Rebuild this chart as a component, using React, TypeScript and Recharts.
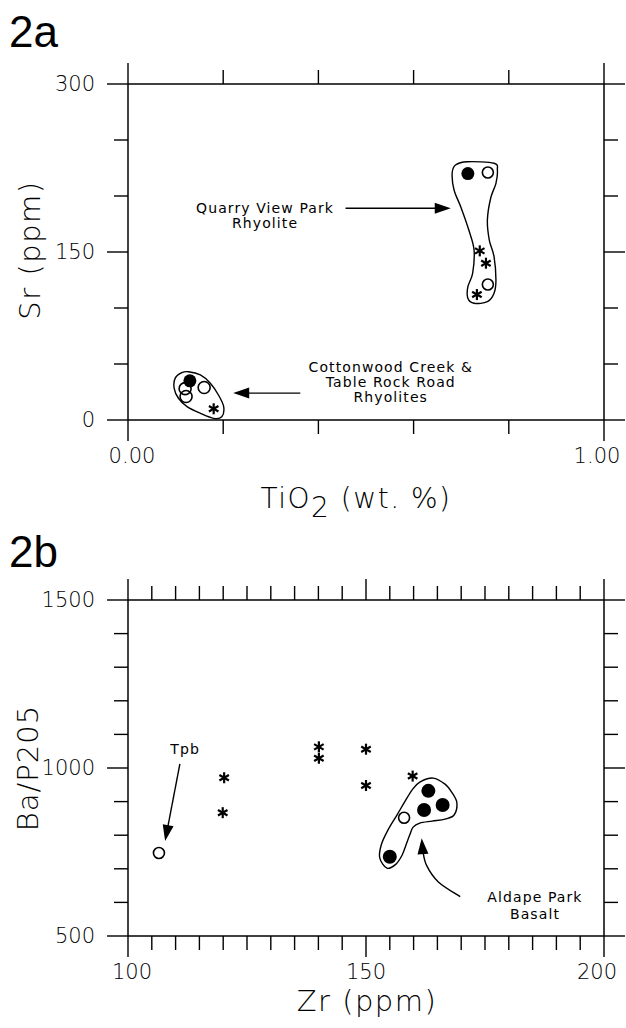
import React from 'react';
import { ScatterChart, Scatter, XAxis, YAxis } from 'recharts';

type P = { x: number; y: number };
type L = { x: number; y: number; text: string };

// ---------------- Panel 2a : Sr (ppm) vs TiO2 (wt. %) ----------------
const tiTicks = [0, 0.2, 0.4, 0.6, 0.8, 1.0];
const tiMajor = [0, 1.0];
const srTicks = [0, 50, 100, 150, 200, 250, 300];
const srMajor = [0, 150, 300];

const quarryFilled: P[] = [{ x: 0.714, y: 220 }];
const quarryOpen: P[] = [{ x: 0.756, y: 221 }, { x: 0.756, y: 121 }];
const quarryStar: P[] = [{ x: 0.739, y: 151 }, { x: 0.752, y: 140 }, { x: 0.733, y: 112 }];
const cottonFilled: P[] = [{ x: 0.13, y: 35 }];
const cottonOpen: P[] = [{ x: 0.12, y: 28 }, { x: 0.16, y: 29 }, { x: 0.122, y: 21 }];
const cottonStar: P[] = [{ x: 0.18, y: 10 }];

const quarryOutline: P[] = [
  { x: 0.688, y: 227.7 }, { x: 0.713, y: 230.6 }, { x: 0.769, y: 229.2 }, { x: 0.776, y: 223.2 },
  { x: 0.773, y: 211.3 }, { x: 0.762, y: 198.2 }, { x: 0.755, y: 178.6 }, { x: 0.759, y: 160.7 },
  { x: 0.769, y: 145.8 }, { x: 0.773, y: 125 }, { x: 0.769, y: 113.1 }, { x: 0.755, y: 105.6 },
  { x: 0.727, y: 104.2 }, { x: 0.714, y: 108.7 }, { x: 0.714, y: 119 }, { x: 0.724, y: 131 },
  { x: 0.727, y: 151.8 }, { x: 0.716, y: 169.6 }, { x: 0.699, y: 190.4 }, { x: 0.685, y: 205.4 },
  { x: 0.681, y: 220.3 },
];
const cottonOutline: P[] = [
  { x: 0.127, y: 43.1 }, { x: 0.152, y: 40.2 }, { x: 0.173, y: 32.8 }, { x: 0.19, y: 22.3 },
  { x: 0.201, y: 11.9 }, { x: 0.197, y: 2.9 }, { x: 0.18, y: 1.5 }, { x: 0.152, y: 6.0 },
  { x: 0.124, y: 11.9 }, { x: 0.106, y: 19.4 }, { x: 0.097, y: 28.3 }, { x: 0.099, y: 37.2 },
  { x: 0.113, y: 42.2 },
];
const quarryArrow: P[] = [{ x: 0.457, y: 189 }, { x: 0.678, y: 189 }];
const cottonArrow: P[] = [{ x: 0.362, y: 24 }, { x: 0.221, y: 24 }];
const quarryLabel: L[] = [
  { x: 0.288, y: 189, text: 'Quarry View Park' },
  { x: 0.288, y: 175.5, text: 'Rhyolite' },
];
const cottonLabel: L[] = [
  { x: 0.552, y: 47.3, text: 'Cottonwood Creek &' },
  { x: 0.552, y: 33.9, text: 'Table Rock Road' },
  { x: 0.552, y: 20.5, text: 'Rhyolites' },
];

// ---------------- Panel 2b : Ba/P205 vs Zr (ppm) ----------------
const zrTicks = [100, 105, 110, 115, 120, 125, 130, 135, 140, 145, 150, 155, 160, 165, 170, 175, 180, 185, 190, 195, 200];
const zrMajor = [100, 150, 200];
const baTicks = [500, 600, 700, 800, 900, 1000, 1100, 1200, 1300, 1400, 1500];
const baMajor = [500, 1000, 1500];

const tpbOpen: P[] = [{ x: 106.5, y: 747 }];
const stars2b: P[] = [
  { x: 120.2, y: 971 }, { x: 119.9, y: 867 }, { x: 140.1, y: 1063 }, { x: 140.1, y: 1029 },
  { x: 150, y: 1056 }, { x: 150, y: 948 }, { x: 159.8, y: 976 },
];
const aldapeFilled: P[] = [{ x: 163.1, y: 932 }, { x: 162.2, y: 875 }, { x: 166.1, y: 890 }, { x: 155, y: 736 }];
const aldapeOpen: P[] = [{ x: 158, y: 852 }];
const aldapeOutline: P[] = [
  { x: 154.4, y: 702 }, { x: 152.9, y: 732 }, { x: 153.2, y: 771 }, { x: 154.6, y: 815 },
  { x: 156.5, y: 860 }, { x: 158.0, y: 896 }, { x: 159.7, y: 935 }, { x: 161.3, y: 958 },
  { x: 164.1, y: 970 }, { x: 166.6, y: 952 }, { x: 168.1, y: 926 }, { x: 169.1, y: 896 },
  { x: 168.5, y: 860 }, { x: 166.6, y: 848 }, { x: 163.9, y: 842 }, { x: 161.3, y: 836 },
  { x: 159.9, y: 824 }, { x: 159.2, y: 801 }, { x: 158.4, y: 771 }, { x: 157.6, y: 741 },
  { x: 156.3, y: 714 },
];
const tpbArrow: P[] = [{ x: 110.9, y: 1012 }, { x: 107.8, y: 783 }];
const aldapeArrow: P[] = [
  { x: 169.8, y: 617 }, { x: 165.2, y: 661 }, { x: 162.7, y: 711 }, { x: 161.9, y: 756 }, { x: 161.7, y: 791 },
];
const tpbLabel: L[] = [{ x: 112, y: 1058, text: 'Tpb' }];
const aldapeLabel: L[] = [
  { x: 185.5, y: 617, text: 'Aldape Park' },
  { x: 185.5, y: 565, text: 'Basalt' },
];

// ---------------- drawing helpers ----------------
const NUM_FONT = "'DejaVu Sans', sans-serif";
const NOTE_FONT = "'DejaVu Sans', sans-serif";

const near = (a: number, list: number[]) => list.some((m) => Math.abs(m - a) < 1e-9);

function makeTick(orient: 'left' | 'right' | 'top' | 'bottom', majors: number[], fmt: ((v: number) => string) | null) {
  return (props: any) => {
    const { x, y, payload } = props;
    const v = payload.value;
    const major = near(v, majors);
    const len = major ? 21 : 14;
    let line: any = null;
    let label: any = null;
    if (orient === 'left') {
      line = <line x1={x - len} y1={y} x2={x} y2={y} stroke="#000" strokeWidth={1.4} />;
      if (fmt && major)
        label = (
          <text x={x - 33} y={y} textAnchor="end" dominantBaseline="central" fontSize={21} fontFamily={NUM_FONT} fontWeight={300} fill="#000">
            {fmt(v)}
          </text>
        );
    } else if (orient === 'right') {
      line = <line x1={x} y1={y} x2={x + len} y2={y} stroke="#000" strokeWidth={1.4} />;
    } else if (orient === 'top') {
      line = <line x1={x} y1={y - len} x2={x} y2={y} stroke="#000" strokeWidth={1.4} />;
    } else {
      line = <line x1={x} y1={y} x2={x} y2={y + len} stroke="#000" strokeWidth={1.4} />;
      if (fmt && major) {
        const isLast = Math.abs(v - majors[majors.length - 1]) < 1e-9;
        const isFirst = Math.abs(v - majors[0]) < 1e-9;
        const lx = isLast ? x - 7 : isFirst ? x + 4 : x;
        label = (
          <text x={lx} y={y + 36} textAnchor="middle" dominantBaseline="central" fontSize={21} fontFamily={NUM_FONT} fontWeight={300} fill="#000">
            {fmt(v)}
          </text>
        );
      }
    }
    return (
      <g>
        {line}
        {label}
      </g>
    );
  };
}

const Nothing = () => <g />;
const filledDot = (r: number) => (p: any) => <circle cx={p.cx} cy={p.cy} r={r} fill="#000" />;
const openDot = (r: number) => (p: any) => <circle cx={p.cx} cy={p.cy} r={r} fill="none" stroke="#000" strokeWidth={1.6} />;
const starMark = (s: number) => (p: any) => {
  const dx = s * Math.cos(Math.PI / 6);
  const dy = s * Math.sin(Math.PI / 6);
  const { cx, cy } = p;
  return (
    <g stroke="#000" strokeWidth={2.2} strokeLinecap="butt">
      <line x1={cx} y1={cy - s} x2={cx} y2={cy + s} />
      <line x1={cx - dx} y1={cy - dy} x2={cx + dx} y2={cy + dy} />
      <line x1={cx - dx} y1={cy + dy} x2={cx + dx} y2={cy - dy} />
    </g>
  );
};
const textMark = (p: any) => {
  const t = (p.payload && p.payload.text) || p.text;
  return (
    <text x={p.cx} y={p.cy} textAnchor="middle" dominantBaseline="central" fontSize={14} fontFamily={NOTE_FONT} letterSpacing={1.1} fill="#000">
      {t}
    </text>
  );
};

type XY = { x: number; y: number };
function closedSpline(pts: XY[]) {
  const n = pts.length;
  if (n < 3) return '';
  let d = `M${pts[0].x},${pts[0].y}`;
  for (let i = 0; i < n; i++) {
    const p0 = pts[(i - 1 + n) % n];
    const p1 = pts[i];
    const p2 = pts[(i + 1) % n];
    const p3 = pts[(i + 2) % n];
    const c1x = p1.x + (p2.x - p0.x) / 6;
    const c1y = p1.y + (p2.y - p0.y) / 6;
    const c2x = p2.x - (p3.x - p1.x) / 6;
    const c2y = p2.y - (p3.y - p1.y) / 6;
    d += ` C${c1x},${c1y} ${c2x},${c2y} ${p2.x},${p2.y}`;
  }
  return d + 'Z';
}
function openSpline(pts: XY[]) {
  const n = pts.length;
  let d = `M${pts[0].x},${pts[0].y}`;
  for (let i = 0; i < n - 1; i++) {
    const p0 = pts[Math.max(0, i - 1)];
    const p1 = pts[i];
    const p2 = pts[i + 1];
    const p3 = pts[Math.min(n - 1, i + 2)];
    const c1x = p1.x + (p2.x - p0.x) / 6;
    const c1y = p1.y + (p2.y - p0.y) / 6;
    const c2x = p2.x - (p3.x - p1.x) / 6;
    const c2y = p2.y - (p3.y - p1.y) / 6;
    d += ` C${c1x},${c1y} ${c2x},${c2y} ${p2.x},${p2.y}`;
  }
  return d;
}

const blobLine = (lp: any) => {
  const pts: XY[] = (lp.points || []).filter((q: any) => q && isFinite(q.x) && isFinite(q.y));
  return <path d={closedSpline(pts)} fill="none" stroke="#000" strokeWidth={1.4} />;
};
const arrowLine = (lp: any) => {
  const pts: XY[] = (lp.points || []).filter((q: any) => q && isFinite(q.x) && isFinite(q.y));
  if (pts.length < 2) return <g />;
  const tip = pts[pts.length - 1];
  const prev = pts[pts.length - 2];
  const ang = Math.atan2(tip.y - prev.y, tip.x - prev.x);
  const L = 16;
  const W = 5.5;
  const bx = tip.x - L * Math.cos(ang);
  const by = tip.y - L * Math.sin(ang);
  const nx = -Math.sin(ang);
  const ny = Math.cos(ang);
  const shaft = pts.slice(0, -1).concat([{ x: bx + 2 * Math.cos(ang), y: by + 2 * Math.sin(ang) }]);
  const d = pts.length > 2 ? openSpline(shaft) : `M${shaft[0].x},${shaft[0].y} L${shaft[1].x},${shaft[1].y}`;
  return (
    <g>
      <path d={d} fill="none" stroke="#000" strokeWidth={1.4} />
      <polygon
        points={`${tip.x},${tip.y} ${bx + W * nx},${by + W * ny} ${bx - W * nx},${by - W * ny}`}
        fill="#000"
      />
    </g>
  );
};

const axisLineStyle = { stroke: '#000', strokeWidth: 1.5 };

function Panel2a() {
  return (
    <ScatterChart width={626} height={540} margin={{ top: 54, left: 88, right: 2, bottom: 90 }} style={{ position: 'absolute', left: 0, top: 0 }}>
      <XAxis xAxisId="b" type="number" dataKey="x" domain={[0, 1]} ticks={tiTicks} interval={0} allowDataOverflow orientation="bottom" height={30}
        axisLine={axisLineStyle} tickLine={false} tickSize={0} tickMargin={0} tick={makeTick('bottom', tiMajor, (v) => v.toFixed(2))} />
      <XAxis xAxisId="t" type="number" dataKey="x" domain={[0, 1]} ticks={tiTicks} interval={0} allowDataOverflow orientation="top" height={30}
        axisLine={axisLineStyle} tickLine={false} tickSize={0} tickMargin={0} tick={makeTick('top', tiMajor, null)} />
      <YAxis yAxisId="l" type="number" dataKey="y" domain={[0, 300]} ticks={srTicks} interval={0} allowDataOverflow orientation="left" width={40}
        axisLine={axisLineStyle} tickLine={false} tickSize={0} tickMargin={0} tick={makeTick('left', srMajor, (v) => String(v))} />
      <YAxis yAxisId="r" type="number" dataKey="y" domain={[0, 300]} ticks={srTicks} interval={0} allowDataOverflow orientation="right" width={20}
        axisLine={axisLineStyle} tickLine={false} tickSize={0} tickMargin={0} tick={makeTick('right', srMajor, null)} />
      <Scatter data={cottonFilled} xAxisId="t" yAxisId="r" shape={Nothing} isAnimationActive={false} />
      <Scatter data={quarryOutline} xAxisId="b" yAxisId="l" shape={Nothing} line={blobLine} lineType="joint" isAnimationActive={false} />
      <Scatter data={cottonOutline} xAxisId="b" yAxisId="l" shape={Nothing} line={blobLine} lineType="joint" isAnimationActive={false} />
      <Scatter data={quarryArrow} xAxisId="b" yAxisId="l" shape={Nothing} line={arrowLine} lineType="joint" isAnimationActive={false} />
      <Scatter data={cottonArrow} xAxisId="b" yAxisId="l" shape={Nothing} line={arrowLine} lineType="joint" isAnimationActive={false} />
      <Scatter data={quarryLabel} xAxisId="b" yAxisId="l" shape={textMark} isAnimationActive={false} />
      <Scatter data={cottonLabel} xAxisId="b" yAxisId="l" shape={textMark} isAnimationActive={false} />
      <Scatter data={quarryOpen} xAxisId="b" yAxisId="l" shape={openDot(5.5)} isAnimationActive={false} />
      <Scatter data={cottonOpen} xAxisId="b" yAxisId="l" shape={openDot(6)} isAnimationActive={false} />
      <Scatter data={quarryStar} xAxisId="b" yAxisId="l" shape={starMark(5.5)} isAnimationActive={false} />
      <Scatter data={cottonStar} xAxisId="b" yAxisId="l" shape={starMark(5.5)} isAnimationActive={false} />
      <Scatter data={quarryFilled} xAxisId="b" yAxisId="l" shape={filledDot(6.5)} isAnimationActive={false} />
      <Scatter data={cottonFilled} xAxisId="b" yAxisId="l" shape={filledDot(6.5)} isAnimationActive={false} />
    </ScatterChart>
  );
}

function Panel2b() {
  return (
    <ScatterChart width={626} height={488} margin={{ top: 30, left: 88, right: 2, bottom: 62 }} style={{ position: 'absolute', left: 0, top: 540 }}>
      <XAxis xAxisId="b" type="number" dataKey="x" domain={[100, 200]} ticks={zrTicks} interval={0} allowDataOverflow orientation="bottom" height={30}
        axisLine={axisLineStyle} tickLine={false} tickSize={0} tickMargin={0} tick={makeTick('bottom', zrMajor, (v) => String(v))} />
      <XAxis xAxisId="t" type="number" dataKey="x" domain={[100, 200]} ticks={zrTicks} interval={0} allowDataOverflow orientation="top" height={30}
        axisLine={axisLineStyle} tickLine={false} tickSize={0} tickMargin={0} tick={makeTick('top', zrMajor, null)} />
      <YAxis yAxisId="l" type="number" dataKey="y" domain={[500, 1500]} ticks={baTicks} interval={0} allowDataOverflow orientation="left" width={40}
        axisLine={axisLineStyle} tickLine={false} tickSize={0} tickMargin={0} tick={makeTick('left', baMajor, (v) => String(v))} />
      <YAxis yAxisId="r" type="number" dataKey="y" domain={[500, 1500]} ticks={baTicks} interval={0} allowDataOverflow orientation="right" width={20}
        axisLine={axisLineStyle} tickLine={false} tickSize={0} tickMargin={0} tick={makeTick('right', baMajor, null)} />
      <Scatter data={tpbOpen} xAxisId="t" yAxisId="r" shape={Nothing} isAnimationActive={false} />
      <Scatter data={aldapeOutline} xAxisId="b" yAxisId="l" shape={Nothing} line={blobLine} lineType="joint" isAnimationActive={false} />
      <Scatter data={tpbArrow} xAxisId="b" yAxisId="l" shape={Nothing} line={arrowLine} lineType="joint" isAnimationActive={false} />
      <Scatter data={aldapeArrow} xAxisId="b" yAxisId="l" shape={Nothing} line={arrowLine} lineType="joint" isAnimationActive={false} />
      <Scatter data={tpbLabel} xAxisId="b" yAxisId="l" shape={textMark} isAnimationActive={false} />
      <Scatter data={aldapeLabel} xAxisId="b" yAxisId="l" shape={textMark} isAnimationActive={false} />
      <Scatter data={tpbOpen} xAxisId="b" yAxisId="l" shape={openDot(5.5)} isAnimationActive={false} />
      <Scatter data={aldapeOpen} xAxisId="b" yAxisId="l" shape={openDot(5.5)} isAnimationActive={false} />
      <Scatter data={stars2b} xAxisId="b" yAxisId="l" shape={starMark(5.5)} isAnimationActive={false} />
      <Scatter data={aldapeFilled} xAxisId="b" yAxisId="l" shape={filledDot(7)} isAnimationActive={false} />
    </ScatterChart>
  );
}

export default function App() {
  const titleFont = "'DejaVu Sans', sans-serif";
  return (
    <div style={{ position: 'absolute', left: 0, top: 0, width: 626, height: 1028, background: '#fff', overflow: 'hidden' }}>
      <Panel2a />
      <Panel2b />
      <svg width={626} height={1028} style={{ position: 'absolute', left: 0, top: 0, pointerEvents: 'none' }}>
        <text x={9} y={47} fontSize={44} fontFamily="'Liberation Sans', Arial, sans-serif" fill="#000">2a</text>
        <text x={9} y={567} fontSize={44} fontFamily="'Liberation Sans', Arial, sans-serif" fill="#000">2b</text>
        <text x={30} y={250} transform="rotate(-90, 30, 250)" textAnchor="middle" dominantBaseline="central" fontSize={29} fontWeight={300} fontFamily={titleFont} letterSpacing={1.5} fill="#000">
          Sr (ppm)
        </text>
        <text x={356} y={508} textAnchor="middle" fontSize={28} fontWeight={300} fontFamily={titleFont} letterSpacing={1.5} fill="#000">
          TiO<tspan dy={9}>2</tspan><tspan dy={-9}> (wt. %)</tspan>
        </text>
        <text x={28} y={768} transform="rotate(-90, 28, 768)" textAnchor="middle" dominantBaseline="central" fontSize={29} fontWeight={300} fontFamily={titleFont} letterSpacing={1} fill="#000">
          Ba/P205
        </text>
        <text x={367} y={1011} textAnchor="middle" fontSize={29} fontWeight={300} fontFamily={titleFont} letterSpacing={1.5} fill="#000">
          Zr (ppm)
        </text>
      </svg>
    </div>
  );
}
